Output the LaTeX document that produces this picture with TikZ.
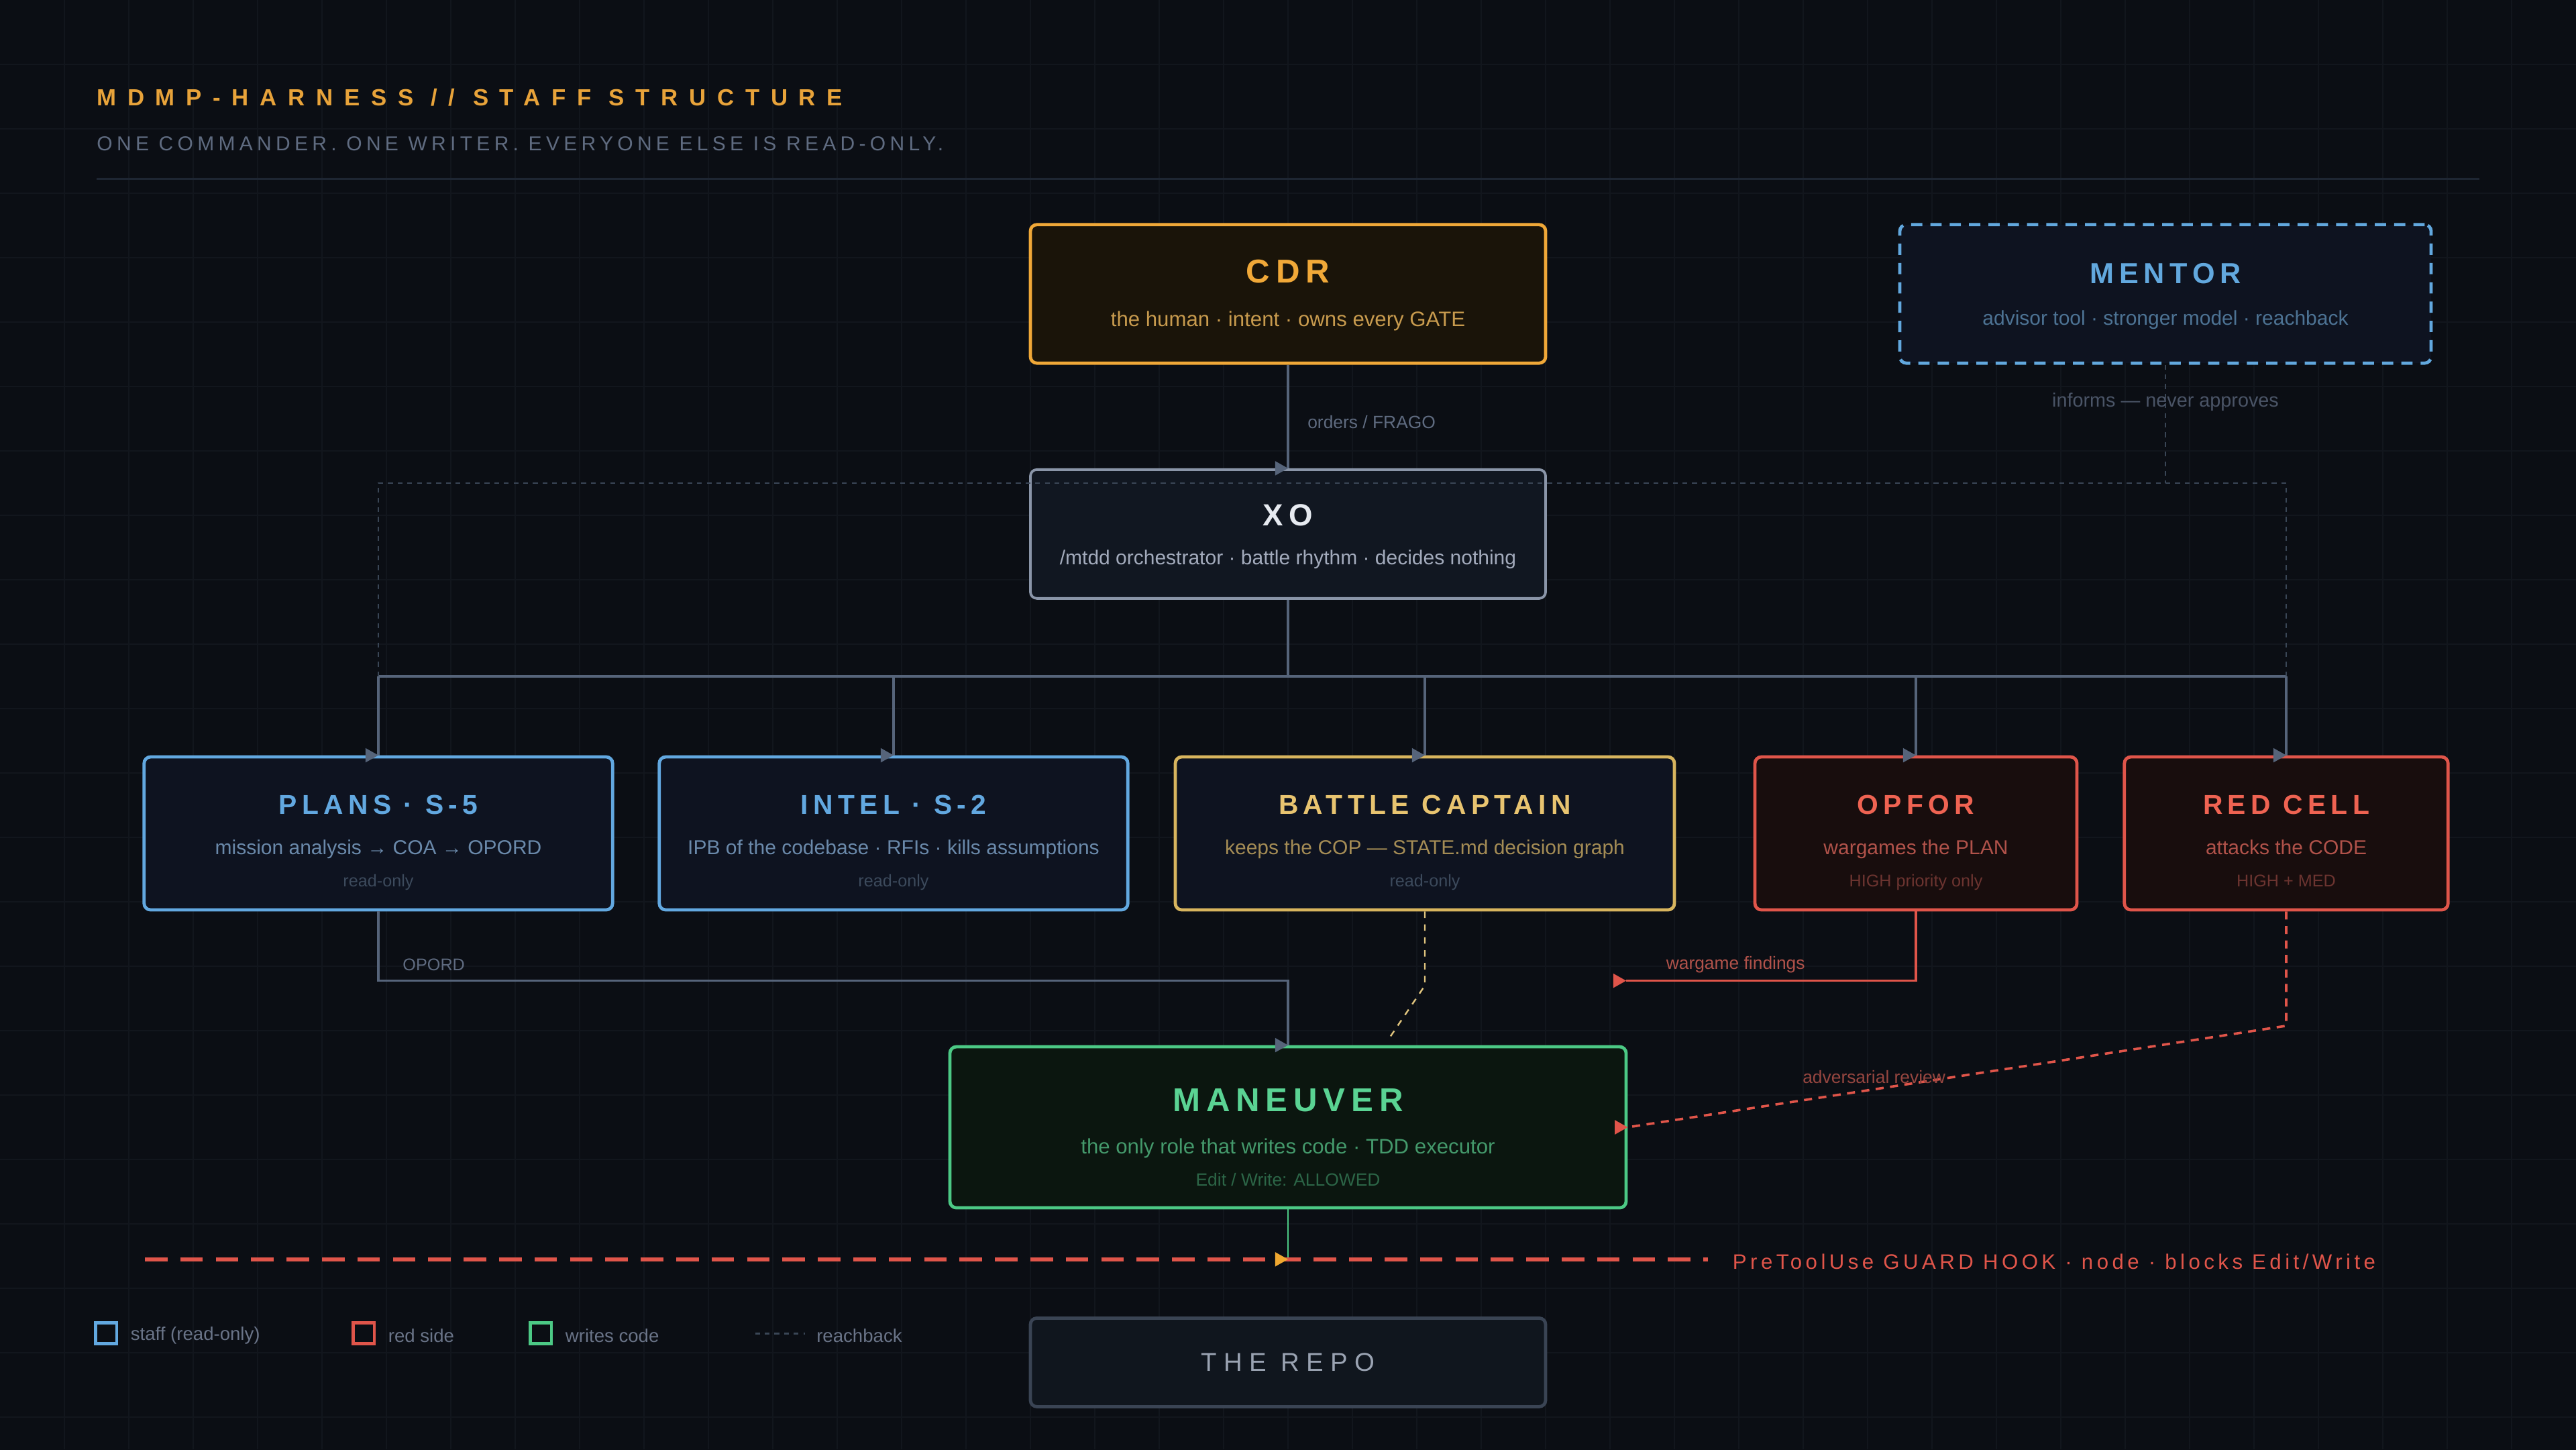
\documentclass[tikz,border=0pt]{standalone}
\usepackage{fontspec}
\setmainfont{Liberation Sans}
\newfontfamily\headfont[LetterSpace=48]{Liberation Sans}
\newfontfamily\tagfont[LetterSpace=21]{Liberation Sans}
\newfontfamily\rolefont[LetterSpace=18]{Liberation Sans}
\newfontfamily\hookfont[LetterSpace=17.5]{Liberation Sans}
\newfontfamily\repofont[LetterSpace=27]{Liberation Sans}
\usepackage{xcolor}
\usepackage{tikz}
\usetikzlibrary{positioning, calc}

\definecolor{bgDark}{HTML}{0B0E14}
\definecolor{gridC}{HTML}{12161D}
\definecolor{sepC}{HTML}{1E2633}
\definecolor{headOr}{HTML}{E8A33A}
\definecolor{tagGrey}{HTML}{5F6B80}
\definecolor{noteGrey}{HTML}{4A5466}
\definecolor{connC}{HTML}{56647A}
\definecolor{reachC}{HTML}{3A4656}
\definecolor{cdrOr}{HTML}{F0A838}
\definecolor{cdrFill}{HTML}{1A1409}
\definecolor{cdrSub}{HTML}{C89B4E}
\definecolor{mentorBlue}{HTML}{62A8DE}
\definecolor{mentorSub}{HTML}{4D7394}
\definecolor{xoLine}{HTML}{8A95A8}
\definecolor{xoFill}{HTML}{111721}
\definecolor{xoTitle}{HTML}{E6EAF0}
\definecolor{xoSub}{HTML}{A3ABBC}
\definecolor{staffBlue}{HTML}{62A8E0}
\definecolor{staffFill}{HTML}{0E1320}
\definecolor{staffSub}{HTML}{6A89AA}
\definecolor{roText}{HTML}{3C4A5C}
\definecolor{bcGold}{HTML}{D8B55E}
\definecolor{bcTitle}{HTML}{E8C470}
\definecolor{bcSub}{HTML}{A48C55}
\definecolor{redLine}{HTML}{E0554A}
\definecolor{redFill}{HTML}{180D0D}
\definecolor{redTitle}{HTML}{EF6352}
\definecolor{redSub}{HTML}{B0524A}
\definecolor{redNote}{HTML}{964640}
\definecolor{redDim}{HTML}{6C3430}
\definecolor{grnLine}{HTML}{4CC985}
\definecolor{grnFill}{HTML}{0B160F}
\definecolor{grnTitle}{HTML}{5AD393}
\definecolor{grnSub}{HTML}{44996B}
\definecolor{grnDim}{HTML}{2C6647}
\definecolor{repoLine}{HTML}{3A4454}
\definecolor{repoFill}{HTML}{10161E}
\definecolor{repoTxt}{HTML}{9AA3B2}
\definecolor{hookOr}{HTML}{F0A830}
\definecolor{legTxt}{HTML}{6A7488}

\newcommand\fsz[1]{\fontsize{#1}{#1}\selectfont}
% marcador de seta (sempre apontando para a direita, como no original)
\newcommand\tipmark[2]{\fill[#1] (#2) ++(-8,-4.5) -- ++(8,4.5) -- ++(-8,4.5) -- cycle;}

\begin{document}
\begin{tikzpicture}[
    x=1pt, y=-1pt,
    % Estilos das caixas
    box/.style={rectangle, rounded corners=4pt, line width=2pt, minimum height=95pt, inner sep=0pt},
    ttl/.style={anchor=base, inner sep=0pt, font=\rolefont\bfseries\fsz{17}},
    sub/.style={anchor=base, inner sep=0pt, font=\fsz{12.5}},
    dim/.style={anchor=base, inner sep=0pt, font=\fsz{10.5}},
    edgelbl/.style={anchor=base, inner sep=0pt, font=\fsz{11}},
    conn/.style={draw=connC, line width=1.5pt},
    reach/.style={draw=reachC, line width=1.2pt, dash pattern=on 3pt off 3pt},
    gridln/.style={draw=gridC, line width=0.6pt},
    legsq/.style={rectangle, line width=2pt, minimum size=13pt, inner sep=0pt, fill=bgDark},
    legtxt/.style={inner sep=0pt, font=\fsz{11.5}, text=legTxt, yshift=-1.5pt}
]

% ==========================
% FUNDO E GRADE
% ==========================
\useasboundingbox (0,0) rectangle (1600,900);
\fill[bgDark] (-5,-5) rectangle (1605,905);
\foreach \gx in {40,80,...,1560} { \draw[gridln] (\gx,0) -- (\gx,900); }
\foreach \gy in {40,80,...,880} { \draw[gridln] (0,\gy) -- (1600,\gy); }

% ==========================
% CABEÇALHO
% ==========================
\node[anchor=base west, inner sep=0pt, font=\headfont\bfseries\fsz{14.5}, text=headOr] (head_t) at (60,65.5) {MDMP-HARNESS // STAFF STRUCTURE};
\node[anchor=base west, inner sep=0pt, font=\tagfont\fsz{12.5}, text=tagGrey] (head_s) at (60,93.5) {ONE COMMANDER. ONE WRITER. EVERYONE ELSE IS READ-ONLY.};
\draw[sepC, line width=1pt] (60,111) -- (1540,111);

% ==========================
% COORDENADAS
% ==========================
\def\XC{800}
\def\XP{235}
\def\XI{555}
\def\XB{885}
\def\XF{1190}
\def\XR{1420}
\def\YR{517.5}
\def\YT{505.5}
\def\YS{530.5}
\def\YD{550.5}

% ==========================
% COMANDO
% ==========================
\node[box, draw=cdrOr, fill=cdrFill, minimum width=320pt, minimum height=86pt] (cdr) at (\XC,182.5) {};
\node[ttl, text=cdrOr, font=\rolefont\bfseries\fsz{20.5}] (cdr_t) at (\XC,175.5) {CDR};
\node[sub, text=cdrSub, font=\fsz{13}] (cdr_s) at (\XC,202.5) {the human · intent · owns every GATE};

\node[box, draw=mentorBlue, fill=staffFill, dash pattern=on 7pt off 5pt, minimum width=330pt, minimum height=86pt] (mentor) at (1345,182.5) {};
\node[ttl, text=mentorBlue, font=\rolefont\bfseries\fsz{18}] (mentor_t) at (1345,176) {MENTOR};
\node[sub, text=mentorSub] (mentor_s) at (1345,202) {advisor tool · stronger model · reachback};

\node[box, draw=xoLine, fill=xoFill, line width=1.6pt, minimum width=320pt, minimum height=80pt] (xo) at (\XC,331.6) {};
\node[ttl, text=xoTitle, font=\rolefont\bfseries\fsz{19}] (xo_t) at (\XC,326.5) {XO};
\node[sub, text=xoSub] (xo_s) at (\XC,350.5) {/mtdd orchestrator · battle rhythm · decides nothing};

% ==========================
% ESTADO-MAIOR
% ==========================
\node[box, draw=staffBlue, fill=staffFill, minimum width=291pt] (plans) at (\XP,\YR) {};
\node[ttl, text=staffBlue] (plans_t) at (\XP,\YT) {PLANS · S-5};
\node[sub, text=staffSub] (plans_s) at (\XP,\YS) {mission analysis → COA → OPORD};
\node[dim, text=roText] (plans_d) at (\XP,\YD) {read-only};

\node[box, draw=staffBlue, fill=staffFill, minimum width=291pt] (intel) at (\XI,\YR) {};
\node[ttl, text=staffBlue] (intel_t) at (\XI,\YT) {INTEL · S-2};
\node[sub, text=staffSub] (intel_s) at (\XI,\YS) {IPB of the codebase · RFIs · kills assumptions};
\node[dim, text=roText] (intel_d) at (\XI,\YD) {read-only};

\node[box, draw=bcGold, fill=staffFill, minimum width=310pt] (battle) at (\XB,\YR) {};
\node[ttl, text=bcTitle] (battle_t) at (\XB,\YT) {BATTLE CAPTAIN};
\node[sub, text=bcSub] (battle_s) at (\XB,\YS) {keeps the COP — STATE.md decision graph};
\node[dim, text=roText] (battle_d) at (\XB,\YD) {read-only};

\node[box, draw=redLine, fill=redFill, minimum width=200pt] (opfor) at (\XF,\YR) {};
\node[ttl, text=redTitle] (opfor_t) at (\XF,\YT) {OPFOR};
\node[sub, text=redSub] (opfor_s) at (\XF,\YS) {wargames the PLAN};
\node[dim, text=redDim] (opfor_d) at (\XF,\YD) {HIGH priority only};

\node[box, draw=redLine, fill=redFill, minimum width=201pt] (redcell) at (\XR,\YR) {};
\node[ttl, text=redTitle] (redcell_t) at (\XR,\YT) {RED CELL};
\node[sub, text=redSub] (redcell_s) at (\XR,\YS) {attacks the CODE};
\node[dim, text=redDim] (redcell_d) at (\XR,\YD) {HIGH + MED};

% ==========================
% MANOBRA E REPOSITÓRIO
% ==========================
\node[box, draw=grnLine, fill=grnFill, minimum width=420pt, minimum height=100pt] (maneuver) at (\XC,700) {};
\node[ttl, text=grnTitle, font=\rolefont\bfseries\fsz{20.5}] (maneuver_t) at (\XC,690) {MANEUVER};
\node[sub, text=grnSub, font=\fsz{13}] (maneuver_s) at (\XC,716.5) {the only role that writes code · TDD executor};
\node[dim, text=grnDim, font=\fsz{11}] (maneuver_d) at (\XC,736.5) {Edit / Write: ALLOWED};

\node[box, draw=repoLine, fill=repoFill, minimum width=320pt, minimum height=55pt, font=\repofont\fsz{16}, text=repoTxt] (repo) at (\XC,846) {THE REPO};

% ==========================
% LIGAÇÕES
% ==========================
\coordinate (bus) at (\XC,420);
\coordinate (reach) at (\XC,300);
\coordinate (opord) at (\XC,609);
\coordinate (wg_end) at (1010,609);
\coordinate (guard_hit) at (\XC,782);
\coordinate (guard_w) at (90,782);
\coordinate (guard_e) at (1061,782);

% CDR -> XO
\draw[conn] (cdr.south) -- (xo.north);
\tipmark{connC}{xo.north}
\node[edgelbl, anchor=base west, text=tagGrey] (orders_l) at (812,266) {orders / FRAGO};

% Barramento do XO
\draw[conn] (xo.south) -- (bus);
\draw[conn] (plans.north |- bus) -- (redcell.north |- bus);
\foreach \n in {plans,intel,battle,opfor,redcell} {
    \draw[conn] (\n.north |- bus) -- (\n.north);
    \tipmark{connC}{\n.north}
}

% Reachback do MENTOR (pontilhado)
\draw[reach] (plans.north |- bus) -- (plans.north |- reach) -- (redcell.north |- reach) -- (redcell.north |- bus);
\draw[reach] (mentor.south) -- (mentor.south |- reach);
\node[edgelbl, text=noteGrey, font=\fsz{12}] (informs_l) at (1345,252.5) {informs — never approves};

% OPORD -> MANEUVER
\draw[conn] (plans.south) |- (opord) -- (maneuver.north);
\tipmark{connC}{maneuver.north}
\node[edgelbl, anchor=base west, text=tagGrey, font=\fsz{10.5}] (opord_l) at (250,602.5) {OPORD};

% BATTLE CAPTAIN -> MANEUVER
\draw[draw=bcGold!80, line width=1pt, dash pattern=on 4pt off 4pt] (battle.south) -- (battle.south |- 0,612) -- ($(maneuver.north)+(62,-3)$);

% OPFOR -> achados
\draw[draw=redLine, line width=1.5pt] (opfor.south) |- (wg_end);
\tipmark{redLine}{wg_end}
\node[edgelbl, text=redSub] (wargame_l) at (1078,602) {wargame findings};

% RED CELL -> MANEUVER
\draw[draw=redLine, line width=1.5pt, dash pattern=on 5pt off 4pt] (redcell.south) -- ++(0,71) -- (maneuver.east);
\tipmark{redLine}{maneuver.east}
\node[edgelbl, text=redNote] (adv_l) at (1164,672.5) {adversarial review};

% GUARD HOOK
\draw[draw=grnLine, line width=1.2pt] (maneuver.south) -- (guard_hit);
\draw[draw=redLine, line width=2.6pt, dash pattern=on 14pt off 8pt] (guard_w) -- (guard_e);
\tipmark{hookOr}{guard_hit}
\node[anchor=base west, inner sep=0pt, font=\hookfont\fsz{13}, text=redLine] (guard_l) at (1076,788) {PreToolUse GUARD HOOK · node · blocks Edit/Write};

% ==========================
% LEGENDA
% ==========================
\node[legsq, draw=staffBlue] (leg_staff) at (66,828) {};
\node[legtxt, right=7.5pt of leg_staff] (leg_staff_t) {staff (read-only)};
\node[legsq, draw=redLine] (leg_red) at (226,828) {};
\node[legtxt, right=7.5pt of leg_red] (leg_red_t) {red side};
\node[legsq, draw=grnLine] (leg_grn) at (336,828) {};
\node[legtxt, right=7.5pt of leg_grn] (leg_grn_t) {writes code};
\coordinate (leg_reach_a) at (469,828);
\coordinate (leg_reach_b) at (500,828);
\draw[reach] (leg_reach_a) -- (leg_reach_b);
\node[legtxt, right=7pt of leg_reach_b] (leg_reach_t) {reachback};

\end{tikzpicture}
\end{document}
